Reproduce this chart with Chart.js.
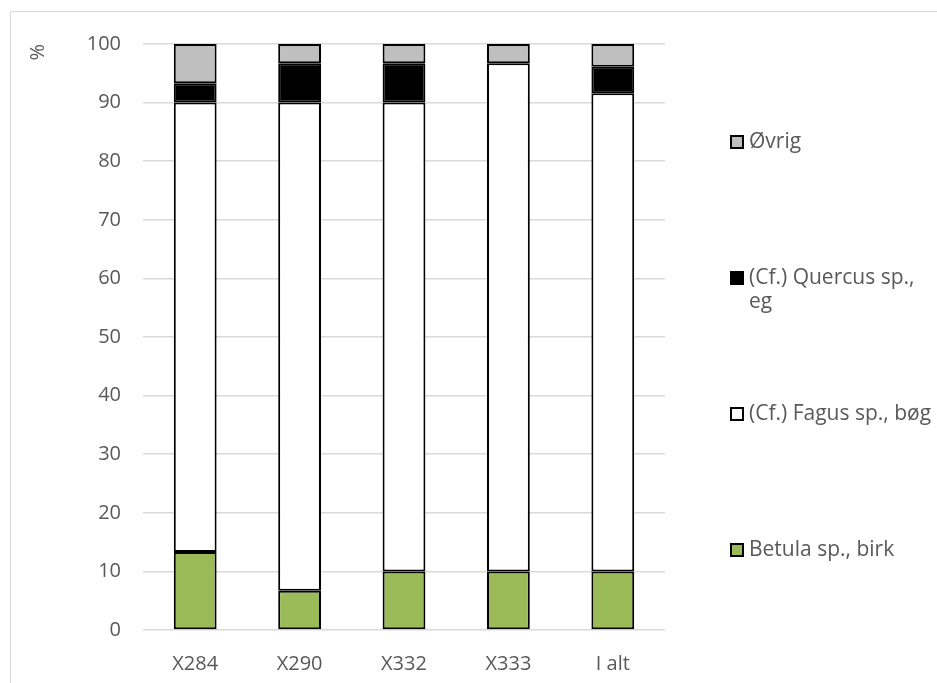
<!DOCTYPE html>
<html>
<head>
<meta charset="utf-8">
<script src="https://cdn.jsdelivr.net/npm/chart.js@4/dist/chart.umd.min.js"></script>
<style>
  body { margin: 0; background: #fff; }
  #wrap { position: relative; width: 937px; height: 683px; }
  #frame { position: absolute; left: 10px; top: 11px; width: 940px; height: 690px; border: 1px solid #d9d9d9; }
  canvas { position: absolute; left: 0; top: 0; }
</style>
</head>
<body>
<div id="wrap">
  <div id="frame"></div>
  <canvas id="chart" width="937" height="683"></canvas>
</div>
<script>
'use strict';

const categories = ['X284', 'X290', 'X332', 'X333', 'I alt'];
const birk = [13.3, 6.7, 10, 10, 10];
const bog = [76.7, 83.3, 80, 86.7, 81.6];
const eg = [3.3, 6.7, 6.7, 0, 4.5];
const ovrig = [6.7, 3.3, 3.3, 3.3, 3.9];
const yTicks = [0, 10, 20, 30, 40, 50, 60, 70, 80, 90, 100];

const textColor = '#595959';
const fontFamily = "'Open Sans', sans-serif";
const fontSize = 20;

// legend drawn at the right, spread over the plot height like the original
const sideLegend = {
  id: 'sideLegend',
  afterDraw: function(chart) {
    const ctx = chart.ctx;
    const items = chart.data.datasets.slice().reverse();
    ctx.save();
    ctx.font = '21px ' + fontFamily;
    ctx.textBaseline = 'middle';
    items.forEach(function(ds, i) {
      const y = 142 + i * 136;
      ctx.fillStyle = ds.backgroundColor;
      ctx.fillRect(731, y - 6, 12, 12);
      ctx.strokeStyle = '#000';
      ctx.lineWidth = 2;
      ctx.strokeRect(731, y - 6, 12, 12);
      ctx.fillStyle = textColor;
      ds.legendLines.forEach(function(line, j) {
        ctx.fillText(line, 749, y + j * 24);
      });
    });
    ctx.restore();
  }
};

function makeSet(label, lines, data, color) {
  return {
    label: label,
    legendLines: lines,
    data: data,
    backgroundColor: color,
    borderColor: '#000',
    borderWidth: 2,
    borderSkipped: false,
    categoryPercentage: 1,
    barPercentage: 0.41
  };
}

let chart = new Chart(document.getElementById('chart'), {
  type: 'bar',
  data: {
    labels: categories,
    datasets: [
      makeSet('Betula sp., birk', ['Betula sp., birk'], birk, '#9bbb59'),
      makeSet('(Cf.) Fagus sp., bøg', ['(Cf.) Fagus sp., bøg'], bog, '#ffffff'),
      makeSet('(Cf.) Quercus sp., eg', ['(Cf.) Quercus sp.,', 'eg'], eg, '#000000'),
      makeSet('Øvrig', ['Øvrig'], ovrig, '#bfbfbf')
    ]
  },
  options: {
    responsive: false,
    animation: false,
    layout: { padding: { left: 0, right: 272, top: 44, bottom: 0 } },
    plugins: {
      legend: { display: false },
      tooltip: { enabled: false }
    },
    scales: {
      x: {
        stacked: true,
        grid: { display: false },
        border: { display: false },
        ticks: { color: textColor, font: { family: fontFamily, size: fontSize }, padding: 14 },
        afterFit: function(scale) { scale.height = 53; }
      },
      y: {
        stacked: true,
        min: 0,
        max: 100,
        afterBuildTicks: function(scale) {
          scale.ticks = yTicks.map(function(v) { return { value: v }; });
        },
        grid: { color: '#d9d9d9', lineWidth: 1.5, drawTicks: false },
        border: { display: false },
        ticks: { color: textColor, font: { family: fontFamily, size: fontSize }, padding: 22 },
        title: {
          display: true,
          text: '%',
          color: textColor,
          font: { family: fontFamily, size: fontSize },
          align: 'end',
          padding: { top: 26, bottom: 0 }
        },
        afterFit: function(scale) { scale.width = 143; }
      }
    }
  },
  plugins: [sideLegend]
});
</script>
</body>
</html>
